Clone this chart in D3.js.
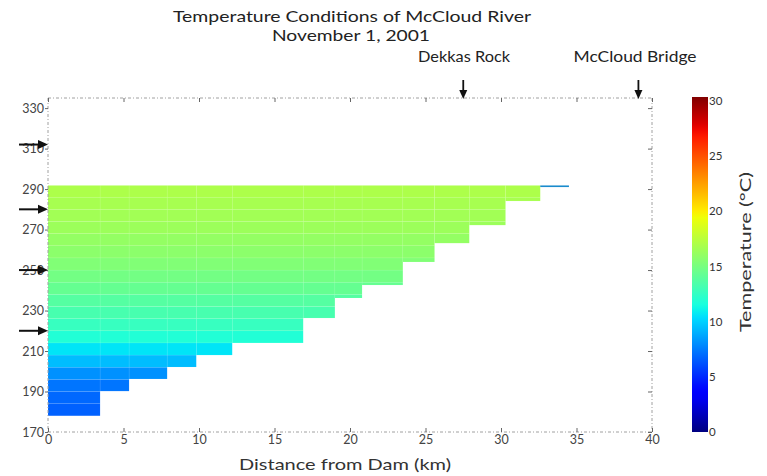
<!DOCTYPE html>
<html><head><meta charset="utf-8">
<script src="https://cdn.jsdelivr.net/npm/d3@7"></script>
<style>body{margin:0;background:#fff} svg{display:block} text{font-family:Lato,"Open Sans",sans-serif}</style>
</head><body><svg id="c" width="767" height="476"></svg>
<script>
// ---- data ----
const distEdges = [0, 3.45, 5.37, 7.89, 9.82, 12.2, 16.9, 19.0, 20.8, 23.5, 25.6, 27.9, 30.3, 32.6];
const bedElev   = [178, 190.2, 196.2, 202.1, 208, 214, 226.3, 236.2, 242.6, 254, 263.3, 272.2, 284.1];
const waterSurface = 291.8;
const rowBottoms = [178, 184, 190, 196, 202, 208, 214, 220, 226, 232, 238, 244, 250, 256, 262, 268, 274, 280, 286];
const rowTemps   = [6.6, 6.8, 7.2, 8.0, 9.3, 10.5, 11.7, 12.5, 13.1, 13.6, 14.2, 14.7, 15.2, 15.6, 15.9, 16.2, 16.4, 16.6, 16.8];
const tailStartKm = 32.6, tailEndKm = 34.5, tailBottom = 291.0, tailTemp = 8.5;
const xTicks = [0, 5, 10, 15, 20, 25, 30, 35, 40];
const yTicks = [170, 190, 210, 230, 250, 270, 290, 310, 330];
const cbTicks = [0, 5, 10, 15, 20, 25, 30];
const outletElev = [312, 280, 250, 220];
const landmarks = ["Dekkas Rock", "McCloud Bridge"];
const landmarkKm = [27.5, 39.1];

// ---- jet colormap ----
const jr = d3.scaleLinear([0, .35, .66, .89, 1], [0, 0, 1, 1, .5]).clamp(true);
const jg = d3.scaleLinear([0, .125, .375, .64, .91, 1], [0, 0, 1, 1, 0, 0]).clamp(true);
const jb = d3.scaleLinear([0, .11, .34, .65, 1], [.5, 1, 1, 0, 0]).clamp(true);
const jet = t => d3.rgb(jr(t) * 255, jg(t) * 255, jb(t) * 255).formatHex();
const color = d3.scaleSequential(jet).domain([0, 30]);

const svg = d3.select("#c");
const x = d3.scaleLinear([0, 40], [48, 652]);
const y = d3.scaleLinear([170, 335], [432, 98]);

// ---- cells ----
const cells = [];
for (let c = 0; c < bedElev.length; c++) {
  const x0 = distEdges[c], x1 = c + 1 < distEdges.length ? distEdges[c + 1] : tailStartKm;
  rowBottoms.forEach((rb, i) => {
    const rt = i + 1 < rowBottoms.length ? rowBottoms[i + 1] : waterSurface;
    if (rt <= bedElev[c] + 0.5) return;
    cells.push({x0, x1, b: Math.max(rb, bedElev[c]), t: rt, temp: rowTemps[i]});
  });
}
svg.append("g").selectAll("rect").data(cells).join("rect")
  .attr("x", d => x(d.x0)).attr("width", d => x(d.x1) - x(d.x0))
  .attr("y", d => y(d.t)).attr("height", d => y(d.b) - y(d.t))
  .attr("fill", d => color(d.temp))
  .attr("stroke", "#fff").attr("stroke-opacity", 0.09).attr("stroke-width", 0.6);
svg.append("rect")
  .attr("x", x(tailStartKm)).attr("width", x(tailEndKm) - x(tailStartKm))
  .attr("y", y(waterSurface)).attr("height", y(tailBottom) - y(waterSurface))
  .attr("fill", d3.interpolateRgb(color(tailTemp), "#555")(0.3));

// ---- frame ----
const frame = svg.append("g").attr("stroke", "#a0a0a0").attr("stroke-width", 1).attr("stroke-dasharray", "3,2,1,2").attr("fill", "none");
frame.append("line").attr("x1", 48).attr("x2", 652).attr("y1", y(335)).attr("y2", y(335));
frame.append("line").attr("x1", 48).attr("x2", 652).attr("y1", y(170)).attr("y2", y(170));
frame.append("line").attr("x1", 48).attr("x2", 48).attr("y1", y(335)).attr("y2", y(170));
frame.append("line").attr("x1", 652).attr("x2", 652).attr("y1", y(335)).attr("y2", y(170));

// axes
const gx = svg.append("g").attr("transform", `translate(0,${y(170)})`)
  .call(d3.axisBottom(x).tickValues(xTicks).tickFormat(d3.format("d")).tickSize(-4).tickPadding(3));
const gy = svg.append("g").attr("transform", `translate(48,0)`)
  .call(d3.axisLeft(y).tickValues(yTicks).tickFormat(d3.format("d")).tickSize(3).tickPadding(1));
const gt = svg.append("g").attr("transform", `translate(0,${y(335)})`)
  .call(d3.axisTop(x).tickValues(xTicks).tickFormat("").tickSize(-4));
const gr = svg.append("g").attr("transform", `translate(652,0)`)
  .call(d3.axisRight(y).tickValues(yTicks).tickFormat("").tickSize(-4));
[gx, gy, gt, gr].forEach(g => {
  g.select(".domain").remove();
  g.selectAll(".tick line").attr("stroke", "#666");
  g.selectAll("text").attr("fill", "#444").attr("font-size", 12.5).attr("font-family", "Lato");
});

// axis title
svg.append("text").attr("x", 345).attr("y", 470).attr("text-anchor", "middle")
  .attr("font-size", 15).attr("fill", "#333")
  .attr("textLength", 212).attr("lengthAdjust", "spacingAndGlyphs").text("Distance from Dam (km)");

// title
svg.append("text").attr("x", 352).attr("y", 22).attr("text-anchor", "middle")
  .attr("font-size", 15).attr("fill", "#222")
  .attr("textLength", 358).attr("lengthAdjust", "spacingAndGlyphs").text("Temperature Conditions of McCloud River");
svg.append("text").attr("x", 351).attr("y", 41).attr("text-anchor", "middle")
  .attr("font-size", 15).attr("fill", "#222")
  .attr("textLength", 158).attr("lengthAdjust", "spacingAndGlyphs").text("November 1, 2001");

// landmarks
const lmTextX = [464, 635];
const lmWidth = [92, 123];
landmarks.forEach((name, i) => {
  svg.append("text").attr("x", lmTextX[i]).attr("y", 62).attr("text-anchor", "middle")
    .attr("font-size", 14.5).attr("fill", "#222")
    .attr("textLength", lmWidth[i]).attr("lengthAdjust", "spacingAndGlyphs").text(name);
  const ax = x(landmarkKm[i]);
  svg.append("line").attr("x1", ax).attr("x2", ax).attr("y1", 80).attr("y2", 92)
    .attr("stroke", "#111").attr("stroke-width", 1.8);
  svg.append("path").attr("d", `M${ax - 4},90 L${ax + 4},90 L${ax},99 Z`).attr("fill", "#111");
});

// outlet arrows
outletElev.forEach(e => {
  const yy = y(e);
  svg.append("line").attr("x1", 19).attr("x2", 41).attr("y1", yy).attr("y2", yy)
    .attr("stroke", "#111").attr("stroke-width", 2);
  svg.append("path").attr("d", `M38,${yy - 4.5} L48,${yy} L38,${yy + 4.5} Z`).attr("fill", "#111");
});

// colorbar
const cbY = d3.scaleLinear([0, 30], [432, 101]);
const defs = svg.append("defs");
const grad = defs.append("linearGradient").attr("id", "jet").attr("x1", 0).attr("x2", 0).attr("y1", 1).attr("y2", 0);
d3.range(0, 1.0001, 0.02).forEach(t => grad.append("stop").attr("offset", t).attr("stop-color", jet(t)));
svg.append("rect").attr("x", 692).attr("width", 16).attr("y", 97).attr("height", cbY(0) - 97)
  .attr("fill", "url(#jet)");
svg.append("g").selectAll("text").data(cbTicks).join("text")
  .attr("x", 709).attr("y", d => cbY(d)).attr("dy", "0.35em")
  .attr("font-size", 11.5).attr("fill", "#333").text(d => d);
svg.append("text").attr("transform", "translate(751,252) rotate(-90)").attr("text-anchor", "middle")
  .attr("font-size", 15).attr("fill", "#333")
  .attr("textLength", 160).attr("lengthAdjust", "spacingAndGlyphs").text("Temperature (°C)");
</script></body></html>
